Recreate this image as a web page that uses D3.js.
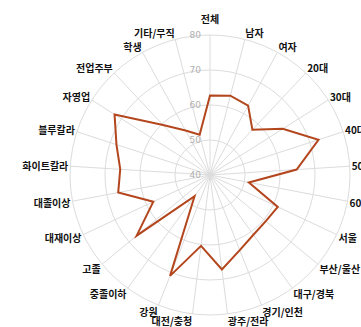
<!DOCTYPE html>
<html>
<head>
<meta charset="utf-8">
<script src="https://cdn.jsdelivr.net/npm/d3@7"></script>
<style>
html,body{margin:0;padding:0;background:#fff;}
svg{display:block;}
</style>
</head>
<body>
<svg id="chart" width="361" height="327"></svg>
<script>
const categories = ["전체","남자","여자","20대","30대","40대","50대","60대","서울","부산/울산","대구/경북","경기/인천","광주/전라","대전/충청","강원","중졸이하","고졸","대재이상","대졸이상","화이트칼라","블루칼라","자영업","전업주부","학생","기타/무직"];
const values = [62.7,63.4,62.6,57.7,64.6,72.6,64.8,51.3,61.4,60.7,61.1,63.1,67.2,60.4,71.0,47.5,67.2,57.9,66.7,65.7,68.1,72.3,59.6,54.5,51.9];
const radialTicks = [40,50,60,70,80];

const cx = 210, cy = 175, R = 140;
const svg = d3.select("#chart");
const g = svg.append("g").attr("transform", `translate(${cx},${cy})`);

const r = d3.scaleLinear().domain([40,80]).range([0,R]);
const n = categories.length;
const angle = d3.scaleLinear().domain([0,n]).range([0,2*Math.PI]);

// grid circles
g.selectAll("circle.grid").data(radialTicks.slice(1)).join("circle")
  .attr("class","grid").attr("r", d=>r(d))
  .attr("fill","none").attr("stroke","#dcdcdc").attr("stroke-width",1);

// spokes
g.selectAll("line.spoke").data(categories).join("line")
  .attr("class","spoke")
  .attr("x1",0).attr("y1",0)
  .attr("x2",(d,i)=>R*Math.sin(angle(i)))
  .attr("y2",(d,i)=>-R*Math.cos(angle(i)))
  .attr("stroke","#dcdcdc").attr("stroke-width",1);

// radial tick labels
g.selectAll("text.rtick").data(radialTicks).join("text")
  .attr("class","rtick")
  .attr("x",-9).attr("y",d=>-r(d))
  .attr("text-anchor","end").attr("dominant-baseline","central")
  .attr("font-family","DejaVu Sans, sans-serif").attr("font-size",9)
  .attr("fill","#b0b0b0")
  .text(d=>d);

// data line
const line = d3.lineRadial()
  .angle((d,i)=>angle(i))
  .radius(d=>r(d))
  .curve(d3.curveLinearClosed);
g.append("path").datum(values)
  .attr("d", line)
  .attr("fill","none").attr("stroke","#b4461e").attr("stroke-width",2)
  .attr("stroke-linejoin","miter");

// category labels
g.selectAll("text.cat").data(categories).join("text")
  .attr("class","cat")
  .each(function(d,i){
    const a = angle(i), s = Math.sin(a), c = Math.cos(a);
    const t = d3.select(this);
    if (Math.abs(s) < 0.05) {
      t.attr("x",0).attr("y",-(R+17)).attr("text-anchor","middle");
    } else {
      t.attr("x",(R+2)*s).attr("y",-(R+2)*c - c*5)
       .attr("text-anchor", s>0 ? "start" : "end");
    }
  })
  .attr("dominant-baseline","central")
  .attr("font-family","'Noto Sans CJK KR', sans-serif")
  .attr("font-weight","bold").attr("font-size",10)
  .attr("fill","#111")
  .text(d=>d);
</script>
</body>
</html>
